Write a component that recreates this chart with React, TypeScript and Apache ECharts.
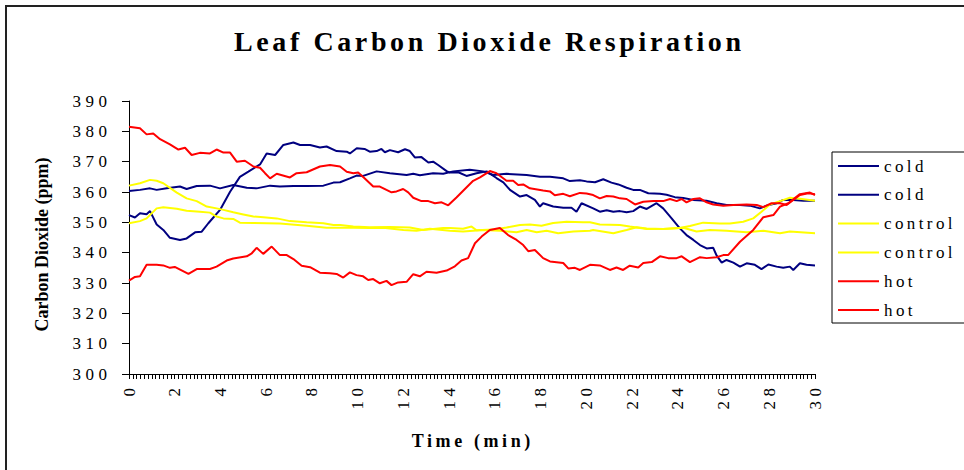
import React, { useEffect, useRef } from "react";
import * as echarts from "echarts";

const chartTitle = "Leaf Carbon Dioxide Respiration";
const xAxisName = "Time (min)";
const yAxisName = "Carbon Dioxide (ppm)";

const seriesNames = ["cold 1", "cold 2", "control 1", "control 2", "hot 1", "hot 2"];
const seriesColors = ["#000080", "#000080", "#FFFF00", "#FFFF00", "#FF0000", "#FF0000"];

// [time (min), CO2 (ppm)]
const cold1 = [[0,352.4],[0.26,351.6],[0.48,353],[0.77,352.7],[0.92,353.7],[1.21,349.3],[1.5,347.5],[1.79,344.9],[2.23,344.2],[2.52,344.7],[2.89,346.7],[3.18,346.9],[3.47,349.7],[3.98,354.1],[4.42,360.1],[4.85,365],[5.22,366.7],[5.73,369.1],[6.02,372.7],[6.39,372.2],[6.75,375.5],[7.19,376.3],[7.48,375.5],[7.92,375.5],[8.35,374.7],[8.64,375],[9.08,373.5],[9.52,373.3],[9.66,372.7],[9.96,374.4],[10.3,374.2],[10.53,373.3],[10.83,373.5],[11.04,374.2],[11.19,373.1],[11.41,373.8],[11.77,373.1],[12.07,374.1],[12.28,373.5],[12.5,371.4],[12.79,371.5],[13.09,369.7],[13.3,370],[13.52,368.9],[13.89,366.9],[14.03,366.4],[14.4,366.5],[14.76,365.3],[15.2,366.2],[15.64,366.8],[16.07,364.6],[16.37,363.2],[16.66,360.7],[17.1,358.5],[17.39,359],[17.75,357.4],[17.97,355.2],[18.11,356.3],[18.55,355.2],[18.99,354.8],[19.35,354.8],[19.57,353.5],[19.79,356.3],[20.3,354.6],[20.59,353.5],[20.89,354],[21.18,353.5],[21.47,353.7],[21.76,353.3],[22.05,353.7],[22.34,355.2],[22.64,354.4],[23.07,356.3],[23.36,354.6],[23.73,351.3],[24.09,348],[24.38,345.8],[24.68,344.2],[24.97,342.5],[25.26,341.4],[25.55,341.6],[25.7,339],[25.92,336.7],[26.13,337.6],[26.43,336.7],[26.72,335.4],[27.01,336.5],[27.37,336],[27.66,334.6],[27.96,336.1],[28.32,335.4],[28.61,335],[28.9,335.4],[29.05,334.3],[29.34,336.5],[29.63,336],[30,335.8]];

const cold2 = [[0,360.3],[0.48,360.7],[0.92,361.2],[1.21,360.7],[1.65,361.2],[2.23,361.8],[2.52,361],[2.96,362],[3.54,362.1],[3.98,361.2],[4.56,362.3],[5.15,361.4],[5.58,361.2],[6.17,362.1],[6.6,361.8],[7.19,362],[7.77,362],[8.5,362.1],[8.94,363.1],[9.23,363.2],[9.66,364.5],[9.95,365.4],[10.24,365.3],[10.83,366.8],[11.41,366.2],[12.14,365.6],[12.43,366],[12.72,365.5],[13.3,366.2],[13.74,366],[14.18,366.8],[14.9,367.3],[15.49,366.8],[15.93,365.6],[16.51,366],[17.39,365.6],[17.97,365],[18.41,365],[18.99,364.5],[19.28,363.6],[19.72,363.9],[20.01,363.5],[20.38,363.2],[20.74,364.2],[21.1,363.1],[21.4,362.5],[21.76,361.4],[22.05,360.7],[22.34,360.7],[22.71,359.6],[23.22,359.4],[23.51,359.1],[23.87,358.3],[24.24,358],[24.68,357.4],[25.26,357.1],[25.7,356.3],[26.13,355.7],[26.72,355.7],[27.15,355.5],[27.59,354.6],[27.88,355.5],[28.32,356.3],[28.61,357.4],[29.05,357.4],[29.49,357.1],[30,357.1]];

const control1 = [[0,362.1],[0.48,362.9],[0.92,364],[1.21,363.7],[1.5,362.9],[2.09,359.8],[2.52,357.9],[2.96,357],[3.4,355.2],[3.83,354.6],[4.13,354.1],[4.56,353.3],[5.0,352.6],[5.44,351.9],[5.88,351.7],[6.46,351.3],[7.04,350.4],[7.77,350],[8.5,349.7],[8.94,349.1],[9.23,349.1],[9.81,348.6],[10.53,348.4],[11.41,348.5],[12.28,348.3],[12.87,347.5],[13.74,348.1],[14.03,348.1],[14.61,347.9],[14.98,348.6],[15.2,347.4],[15.93,347.6],[16.51,348.3],[17.1,349.1],[17.53,349.3],[18.04,348.9],[18.55,349.8],[19.14,350.2],[19.86,350],[20.16,350],[20.59,349.3],[21.47,349.1],[21.9,348.6],[22.64,347.8],[23.36,347.8],[24.09,348.1],[24.53,348.8],[25.11,349.9],[25.84,349.6],[26.28,349.6],[26.86,350.2],[27.3,351.3],[27.66,353.5],[28.03,355.9],[28.47,357],[28.9,358.1],[29.34,357.8],[30,357.1]];

const control2 = [[0,349.7],[0.48,350.4],[0.77,351.3],[1.21,354.6],[1.5,355],[2.09,354.5],[2.52,353.8],[3.1,353.5],[3.54,353.2],[3.83,351.9],[4.13,351.3],[4.56,351.1],[4.85,349.9],[5.44,349.8],[6.6,349.6],[7.77,348.9],[8.64,348.2],[9.81,348.2],[10.5,348.1],[11.12,348.2],[12.0,347.5],[12.57,347.2],[13.16,347.9],[14.03,347.2],[14.61,347],[15.49,347.5],[16.22,347.2],[16.95,346.7],[17.39,347.5],[17.83,346.7],[18.26,347.2],[18.77,346.4],[19.43,347],[20.16,347.2],[20.3,347.5],[21.18,346.4],[21.76,347.5],[22.2,348.4],[22.64,348],[23.36,347.8],[24.24,348.2],[24.82,347],[25.4,347.5],[26.13,347.2],[27.01,346.7],[27.74,347.2],[28.47,346.4],[28.9,347],[30,346.4]];

const hot1 = [[0,381.5],[0.48,381],[0.77,379],[1.06,379.3],[1.36,377.4],[1.79,375.7],[2.16,374],[2.45,374.6],[2.74,372.2],[3.1,372.9],[3.54,372.7],[3.83,374],[4.13,373],[4.42,373],[4.71,370],[5.07,370.3],[5.44,368.4],[5.73,368],[5.95,366.2],[6.17,364.5],[6.46,366],[7.04,364.8],[7.33,366.2],[7.77,366.5],[8.35,368.4],[8.79,368.9],[9.23,368.4],[9.52,366.7],[9.81,366.2],[10.02,366.4],[10.3,364.5],[10.68,361.8],[10.97,361.8],[11.26,360.7],[11.48,359.9],[11.7,360.2],[11.99,361],[12.21,359.9],[12.43,358.1],[12.79,357],[13.09,357],[13.38,356.3],[13.67,356.6],[13.96,355.6],[14.32,358.2],[14.69,361],[15.05,363.7],[15.35,364.8],[15.78,366.9],[16.07,366.2],[16.51,363.7],[16.8,363.7],[17.02,362.3],[17.24,362.5],[17.53,361.2],[18.11,360.5],[18.41,360.2],[18.62,358.9],[18.99,359.4],[19.28,358.6],[19.72,359.7],[20.01,359.5],[20.3,359],[20.59,357.9],[20.89,358.7],[21.18,358.5],[21.47,357.9],[21.76,357.7],[22.13,355.9],[22.49,356.8],[22.93,357],[23.36,357],[23.66,357.7],[23.95,357],[24.17,357.7],[24.38,356.6],[24.68,357.7],[24.97,357.9],[25.26,356.6],[25.55,355.9],[25.99,355.5],[26.43,355.7],[27.01,355.9],[27.45,355.7],[27.74,355],[28.1,356.3],[28.47,356.3],[28.76,355.7],[29.05,357.4],[29.34,359],[29.7,359.6],[30,359.3]];

const hot2 = [[0,330.8],[0.26,332],[0.48,332.2],[0.77,336],[1.21,336],[1.5,335.8],[1.79,335],[2.0,335.3],[2.6,333],[2.96,334.6],[3.54,334.6],[3.83,335.4],[4.27,337.4],[4.56,338.1],[5.15,338.8],[5.37,339.8],[5.58,341.6],[5.87,339.6],[6.24,342],[6.6,339.2],[6.9,339.2],[7.19,337.9],[7.55,335.7],[7.92,335.2],[8.35,333.4],[8.79,333.2],[9.08,333],[9.37,331.8],[9.66,333.5],[9.95,332.6],[10.24,332.2],[10.46,331],[10.68,331.3],[10.97,329.9],[11.26,330.7],[11.48,329.3],[11.77,330.2],[12.14,330.4],[12.43,332.9],[12.72,332.2],[13.01,333.7],[13.45,333.4],[13.89,334.1],[14.25,335.5],[14.54,337.4],[14.83,338.2],[15.13,343.1],[15.42,345.3],[15.78,347.5],[16.22,348.1],[16.58,345.8],[16.95,344.2],[17.24,342.5],[17.46,340.5],[17.75,340.9],[18.11,338.2],[18.41,337.1],[18.99,336.6],[19.21,334.8],[19.5,335],[19.72,334.3],[20.16,336],[20.59,335.8],[21.03,334.3],[21.32,335.1],[21.61,334.3],[21.9,335.7],[22.27,335.1],[22.49,336.6],[22.86,336.9],[23.22,338.8],[23.58,338.2],[23.95,338.2],[24.17,338.8],[24.53,336.9],[24.97,338.5],[25.26,338.2],[25.7,338.5],[25.99,339.2],[26.2,339.2],[26.72,343.6],[27.3,347.5],[27.74,351.7],[28.18,352.4],[28.47,355.2],[28.83,356.3],[29.34,359.3],[29.78,359.8],[30,359]];

const seriesData = [cold1, cold2, control1, control2, hot1, hot2];

const FONT = '"Liberation Serif", "Times New Roman", serif';

export default function App() {
  const ref = useRef<HTMLDivElement>(null);

  useEffect(() => {
    const el = ref.current;
    if (!el) return;
    const chart = echarts.init(el, null, { renderer: "svg" });

    const option: any = {
      animation: false,
      backgroundColor: "#ffffff",
      grid: { left: 129, right: 149, top: 101, bottom: 96, containLabel: false },
      legend: {
        orient: "vertical",
        left: 832,
        top: 152,
        padding: [4, 40, 3, 6],
        itemGap: 8.8,
        itemWidth: 41,
        itemHeight: 2,
        icon: "rect",
        borderColor: "#000",
        borderWidth: 1,
        backgroundColor: "#fff",
        selectedMode: false,
        data: seriesNames,
        formatter: (n: string) => n.replace(/ \d$/, ""),
        textStyle: { fontFamily: FONT, fontSize: 17, color: "#000", lineHeight: 20 },
      },
      xAxis: {
        type: "value",
        min: 0,
        max: 30,
        interval: 2,
        axisLine: { show: true, lineStyle: { color: "#000", width: 1 } },
        axisTick: { show: true, length: 5, lineStyle: { color: "#000", width: 1 } },
        minorTick: { show: true, splitNumber: 12, length: 5, lineStyle: { color: "#000", width: 1 } },
        splitLine: { show: false },
        minorSplitLine: { show: false },
        axisLabel: { rotate: 90, margin: 9.5, fontFamily: FONT, fontSize: 17, color: "#000" },
      },
      yAxis: {
        type: "value",
        min: 300,
        max: 390,
        interval: 10,
        axisLine: { show: true, lineStyle: { color: "#000", width: 1 } },
        axisTick: { show: true, length: 7, lineStyle: { color: "#000", width: 1 } },
        splitLine: { show: false },
        axisLabel: { margin: 17.5, fontFamily: FONT, fontSize: 17, color: "#000" },
      },
      series: seriesData.map((d, i) => ({
        name: seriesNames[i],
        type: "line",
        data: d,
        showSymbol: false,
        symbol: "none",
        smooth: false,
        lineStyle: { color: seriesColors[i], width: 2 },
        itemStyle: { color: seriesColors[i] },
      })),
      graphic: [
        {
          type: "rect",
          silent: true,
          shape: { x: 6, y: 6, width: 1200, height: 700 },
          style: { fill: "none", stroke: "#222", lineWidth: 2 },
        },
        {
          type: "text",
          x: 489.3,
          y: 41,
          style: {
            text: chartTitle,
            font: `bold 28px ${FONT}`,
            fill: "#000",
            align: "center",
            verticalAlign: "middle",
            textAlign: "center",
            textVerticalAlign: "middle",
          },
        },
        {
          type: "text",
          x: 472.8,
          y: 441,
          style: {
            text: xAxisName,
            font: `bold 18px ${FONT}`,
            fill: "#000",
            align: "center",
            verticalAlign: "middle",
            textAlign: "center",
            textVerticalAlign: "middle",
          },
        },
        {
          type: "text",
          x: 42,
          y: 244.5,
          rotation: Math.PI / 2,
          style: {
            text: yAxisName,
            font: `bold 18px ${FONT}`,
            fill: "#000",
            align: "center",
            verticalAlign: "middle",
            textAlign: "center",
            textVerticalAlign: "middle",
          },
        },
      ],
    };

    chart.setOption(option);

    const applySpacing = () => {
      const texts = el.querySelectorAll("text");
      texts.forEach((t) => {
        const s = (t.textContent || "").trim();
        let ls: number | null = null;
        if (s === chartTitle) ls = 3.6;
        else if (s === xAxisName) ls = 3.6;
        else if (s === "cold" || s === "control" || s === "hot") ls = 3.4;
        else if (/^\d+$/.test(s)) ls = 4.5;
        if (ls !== null) t.setAttribute("letter-spacing", String(ls));
      });
    };
    applySpacing();
    chart.on("finished", applySpacing);
    const raf = requestAnimationFrame(applySpacing);
    const to = setTimeout(applySpacing, 50);

    return () => {
      cancelAnimationFrame(raf);
      clearTimeout(to);
      chart.dispose();
    };
  }, []);

  return (
    <div
      ref={ref}
      style={{ position: "absolute", left: 0, top: 0, width: 964, height: 470, background: "#fff" }}
    />
  );
}
